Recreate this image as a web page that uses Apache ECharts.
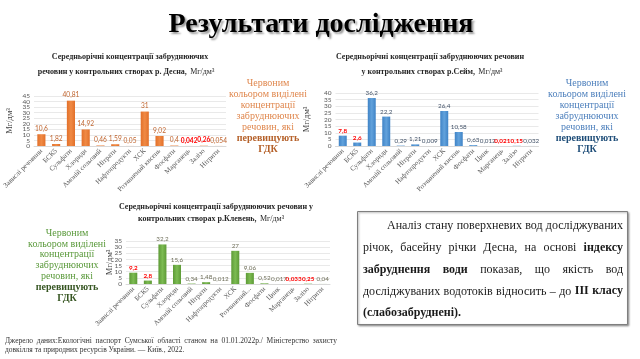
<!DOCTYPE html>
<html><head><meta charset="utf-8">
<script src="https://cdn.jsdelivr.net/npm/echarts@6/dist/echarts.min.js"></script>
<style>html,body{margin:0;padding:0;background:#fff}#c{width:640px;height:359px}</style>
</head><body><div id="c"></div>
<script>
// ---------- DATA ----------
const catDesna = ["Завислі речовини","БСК5","Сульфати","Хлориди","Амоній сольовий","Нітрати","Нафтопродукти","ХСК","Розчинений кисень","Фосфати","Марганець","Залізо","Нітрити"];
const valDesna = [10.6,1.82,40.81,14.92,0.46,1.59,0.05,31,9.02,0.4,0.042,0.26,0.054];
const redDesna = [0,0,0,0,0,0,0,0,0,0,1,1,0];
const ticksDesna = [0,5,10,15,20,25,30,35,40,45];

const catSeim = ["Завислі речовини","БСК5","Сульфати","Хлориди","Амоній сольовий","Нітрати","Нафтопродукти","ХСК","Розчинений кисень","Фосфати","Цинк","Марганець","Залізо","Нітрити"];
const valSeim = [7.8,2.6,36.2,22.2,0.29,1.21,0.009,26.4,10.58,0.63,0.012,0.021,0.15,0.032];
const redSeim = [1,1,0,0,0,0,0,0,0,0,0,1,1,0];
const ticksSeim = [0,5,10,15,20,25,30,35,40];

const catKleven = ["Завислі речовини","БСК5","Сульфати","Хлориди","Амоній сольовий","Нітрати","Нафтопродукти","ХСК","Розчинений...","Фосфати","Цинк","Марганець","Залізо","Нітрити"];
const valKleven = [9.2,2.8,32.2,15.6,0.34,1.48,0.012,27,9.06,0.52,0.017,0.033,0.25,0.04];
const redKleven = [1,1,0,0,0,0,0,0,0,0,0,1,1,0];
const ticksKleven = [0,5,10,15,20,25,30,35];

const SERIF = '"Liberation Serif","Times New Roman",serif';
const SANS = 'Lato,"Open Sans",sans-serif';

const chart = echarts.init(document.getElementById('c'), null, {renderer:'canvas'});

const grids = [
  {left:34, top:96, width:192, height:50, containLabel:false},
  {left:335.5, top:93, width:203, height:53, containLabel:false},
  {left:126, top:241, width:204, height:43, containLabel:false}
];

function mkX(i, cats){
  return {type:'category', gridIndex:i, data:cats,
    axisTick:{show:false},
    axisLine:{lineStyle:{color:'#d9d9d9'}},
    axisLabel:{interval:0, rotate:45, fontFamily:SERIF, fontSize:7, color:'#595959', margin:4, hideOverlap:false}};
}
function mkY(i, ticks, gap){
  return {type:'value', gridIndex:i, min:ticks[0], max:ticks[ticks.length-1], interval:ticks[1]-ticks[0],
    name:'Мг/дм³', nameLocation:'middle', nameGap:gap, nameRotate:90,
    nameTextStyle:{fontFamily:SERIF, fontSize:8.5, color:'#404040'},
    axisLine:{show:false}, axisTick:{show:false},
    splitLine:{lineStyle:{color:'#e3e3e3', width:0.8}},
    axisLabel:{show:false}};
}
function mkS(i, vals, reds, c1, c2, labColor, fs){
  return {type:'bar', xAxisIndex:i, yAxisIndex:i, barWidth:'55%',
    itemStyle:{color:new echarts.graphic.LinearGradient(0,0,1,0,[{offset:0,color:c1},{offset:0.5,color:c2},{offset:1,color:c1}])},
    label:{show:true, position:'top', distance:2, fontFamily:SANS, fontSize:fs,
      formatter:p=>String(p.value).replace('.',',')},
    labelLayout:{hideOverlap:false},
    data:vals.map((v,k)=>({value:v, label:{color:reds[k]?'#ff0000':labColor, fontWeight:reds[k]?'bold':'normal'}}))};
}

// ---------- text helpers ----------
const cv = document.createElement('canvas').getContext('2d');
function fontStr(b,size){return (b?'bold ':'')+size+'px '+SERIF;}
function measure(t,b,size){cv.font=fontStr(b,size);return cv.measureText(t).width;}
function tStyle(text,b,size,color,align){
  return {text:text, fontFamily:SERIF, fontSize:size, fontWeight:b?'bold':'normal', fill:color, textAlign:align, textVerticalAlign:'middle'};
}
function lineEls(segs, x0, x1, y, size, color, justify){
  const words=[];
  segs.forEach(s=>s[0].split(' ').filter(w=>w.length).forEach(w=>words.push({t:w,b:s[1]})));
  const ws=words.map(w=>measure(w.t,w.b,size));
  const tot=ws.reduce((a,b)=>a+b,0);
  let gap=measure(' ',false,size);
  if(justify && words.length>1) gap=Math.max(1.5,(x1-x0-tot)/(words.length-1));
  let x=x0; const els=[];
  words.forEach((w,k)=>{
    els.push({type:'text', x:x, y:y, silent:true, style:tStyle(w.t,w.b,size,color,'left')});
    x+=ws[k]+gap;
  });
  return els;
}
function sideEls(cx, y0, dy, color, boldColor){
  const lines=[["Червоним",0],["кольором виділені",0],["концентрації",0],["забруднюючих",0],["речовин, які",0],["перевищують",1],["ГДК",1]];
  return lines.map((l,k)=>({type:'text', x:cx, y:y0+k*dy, silent:true,
    style:tStyle(l[0],l[1],10,l[1]?boldColor:color,'center')}));
}
function titleEl(cx, y, text, unit){
  return {type:'text', x:cx, y:y, silent:true, style:{
    text: unit? '{b|'+text+'} {n|Мг/дм³}' : '{b|'+text+'}',
    rich:{b:{fontFamily:SERIF, fontWeight:'bold', fontSize:8, fill:'#262626', color:'#262626'},
          n:{fontFamily:SERIF, fontSize:8, fill:'#262626', color:'#262626'}},
    textAlign:'center', textVerticalAlign:'middle'}};
}

let g=[];
// main title
g.push({type:'text', x:321, y:25, silent:true, style:{text:'Результати дослідження', fontFamily:SERIF, fontWeight:'bold', fontSize:28, fill:'#000',
  textAlign:'center', textVerticalAlign:'middle', textShadowColor:'rgba(0,0,0,0.4)', textShadowBlur:2, textShadowOffsetX:2, textShadowOffsetY:2}});
// chart titles
g.push(titleEl(130,57,'Середньорічні концентрації забруднюючих',false));
g.push(titleEl(126,72,'речовин у контрольних створах р. Десна,',true));
g.push(titleEl(430,57,'Середньорічні концентрації забруднюючих речовин',false));
g.push(titleEl(432,72,'у контрольних створах р.Сейм,',true));
g.push(titleEl(216,207,'Середньорічні концентрації забруднюючих речовин у',false));
g.push(titleEl(211,219,'контрольних створах р.Клевень,',true));
// side notes
g=g.concat(sideEls(268,83,11.1,'#e0884f','#b5612a'));
g=g.concat(sideEls(587,83,11.1,'#4f81bd','#1f4e79'));
g=g.concat(sideEls(67,233,10.9,'#5b9a3c','#375623'));
// box
g.push({type:'rect', silent:true, shape:{x:357.5,y:211.5,width:270,height:113},
  style:{fill:'#fff', stroke:'#7f7f7f', lineWidth:1, shadowColor:'rgba(0,0,0,0.35)', shadowBlur:2, shadowOffsetX:1, shadowOffsetY:1}});
const boxLines=[
  [[["Аналіз стану поверхневих вод досліджуваних",0]],387,true],
  [[["річок, басейну річки Десна, на основі",0],["індексу",1]],363,true],
  [[["забруднення води",1],["показав, що якість вод",0]],363,true],
  [[["досліджуваних водотоків відносить – до",0],["III класу",1]],363,true],
  [[["(слабозабруднені).",1]],363,false]];
boxLines.forEach((l,k)=>{ g=g.concat(lineEls(l[0], l[1], 623, 226+k*21.8, 12, '#1a1a1a', l[2])); });
// footer
g=g.concat(lineEls([["Джерело даних:Екологічні паспорт Сумської області станом на 01.01.2022р./ Міністерство захисту",0]],5,337,341,7.5,'#333',true));
g=g.concat(lineEls([["довкілля та природних ресурсів України. — Київ., 2022.",0]],5,337,350,7.5,'#333',false));

chart.setOption({
  animation:false,
  backgroundColor:'#fff',
  grid:grids,
  xAxis:[mkX(0,catDesna), mkX(1,catSeim), mkX(2,catKleven)],
  yAxis:[mkY(0,ticksDesna,20), mkY(1,ticksSeim,24), mkY(2,ticksKleven,12)],
  series:[
    mkS(0,valDesna,redDesna,'#e2702a','#f08a45','#c0652f',6.6),
    mkS(1,valSeim,redSeim,'#3f83c6','#62a2dc','#44546a',6.3),
    mkS(2,valKleven,redKleven,'#5d9a36','#7cbb52','#6f6f5a',6.3)
  ]
});

// y tick labels placed through the library's own y scales
[ticksDesna, ticksSeim, ticksKleven].forEach((ticks,i)=>{
  ticks.forEach(v=>{
    const y = chart.convertToPixel({yAxisIndex:i}, v);
    g.push({type:'text', x:grids[i].left-4, y:y, silent:true,
      style:{text:String(v), fontFamily:SANS, fontSize:6.5, fill:'#595959', textAlign:'right', textVerticalAlign:'middle'}});
  });
});
chart.setOption({graphic:{elements:g}});
</script></body></html>
